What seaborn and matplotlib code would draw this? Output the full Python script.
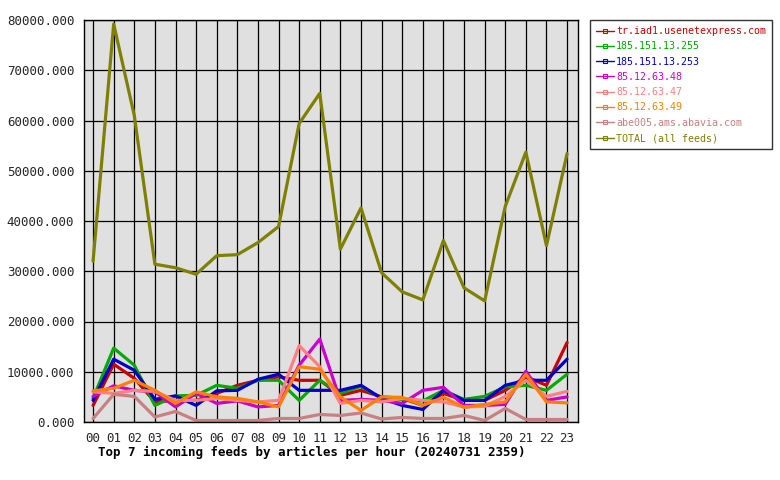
import matplotlib
matplotlib.use("Agg")
import matplotlib.pyplot as plt
import seaborn as sns
import pandas as pd
from matplotlib.lines import Line2D
from matplotlib.ticker import FuncFormatter

hours = ["00", "01", "02", "03", "04", "05", "06", "07", "08", "09", "10", "11",
         "12", "13", "14", "15", "16", "17", "18", "19", "20", "21", "22", "23"]

feed_names = ["tr.iad1.usenetexpress.com", "185.151.13.255", "185.151.13.253",
              "85.12.63.48", "85.12.63.47", "85.12.63.49", "abe005.ams.abavia.com",
              "TOTAL (all feeds)"]

usenetexpress = [3300, 11500, 8700, 4000, 4300, 4300, 5700, 7300, 8300, 9000, 8300, 8300,
                 5300, 6300, 5000, 4700, 3300, 5700, 4300, 4300, 6300, 9000, 7300, 15800]
f185_255 = [4700, 14700, 11300, 3300, 5200, 5300, 7300, 6700, 8300, 8300, 4300, 8300,
            5700, 7100, 4700, 4500, 4200, 6300, 4500, 5100, 7000, 7300, 6300, 9500]
f185_253 = [4300, 12500, 10300, 4500, 5200, 3300, 6200, 6300, 8500, 9500, 6300, 6300,
            6300, 7300, 4700, 3300, 2500, 6300, 4300, 4300, 7300, 8300, 8300, 12500]
f85_48 = [5100, 7200, 6300, 6000, 3000, 5700, 3700, 4200, 3000, 3300, 11300, 16500,
          4300, 4500, 4300, 3700, 6300, 6900, 3300, 3300, 3500, 10100, 4300, 5000]
f85_47 = [6000, 5700, 6300, 6100, 4300, 4300, 4700, 4300, 4000, 4300, 15200, 11000,
          3700, 4300, 4000, 4700, 4300, 4000, 3000, 3100, 5100, 8300, 5100, 6100]
f85_49 = [6200, 6700, 8300, 6300, 3700, 6000, 5000, 4700, 4000, 3000, 11000, 10500,
          5000, 2300, 5000, 4900, 3300, 4900, 2900, 3500, 4000, 9500, 4000, 3800]
abavia = [700, 5500, 5100, 1000, 2100, 300, 300, 300, 300, 700, 700, 1500,
          1300, 1800, 600, 900, 700, 700, 1300, 300, 2700, 500, 500, 500]
total = [32000, 79200, 61000, 31400, 30700, 29400, 33100, 33300, 35700, 38900, 59400, 65400,
         34400, 42600, 29700, 25900, 24300, 36100, 26700, 24100, 42900, 53700, 35100, 53400]

colors = ["#cc0000", "#00aa00", "#0000cc", "#cc00cc", "#ff8080", "#ff8000", "#c88080", "#808000"]

series = [usenetexpress, f185_255, f185_253, f85_48, f85_47, f85_49, abavia, total]
rows = []
for name, vals in zip(feed_names, series):
    for i, v in enumerate(vals):
        rows.append({"hour": i, "feed": name, "articles": v})
df = pd.DataFrame(rows)
palette = dict(zip(feed_names, colors))

sns.set_style("white")
plt.rcParams["font.family"] = ["DejaVu Sans Mono"]

fig = plt.figure(figsize=(7.8, 4.8), dpi=100)
fig.patch.set_facecolor("white")
ax = fig.add_axes([84 / 780, 58 / 480, 494 / 780, 402 / 480])
ax.set_facecolor("#e0e0e0")

sns.lineplot(data=df, x="hour", y="articles", hue="feed", hue_order=feed_names,
             palette=palette, linewidth=2.3, sort=False, legend=False, ax=ax,
             estimator=None)

ax.set_xlim(-0.44, 23.53)
ax.set_ylim(0, 80000)
ax.set_xticks(range(24))
ax.set_xticklabels(hours)
ax.set_yticks(range(0, 80001, 10000))
ax.yaxis.set_major_formatter(FuncFormatter(lambda v, p: f"{v:.3f}"))
ax.grid(True, color="black", linewidth=0.9)
ax.set_axisbelow(True)
for s in ax.spines.values():
    s.set_color("black")
    s.set_linewidth(1.0)
ax.tick_params(axis="both", direction="out", length=4, width=0.9, color="black",
               labelsize=9, pad=3)
ax.set_xlabel("")
ax.set_ylabel("")

handles = [Line2D([0], [0], color=c, linewidth=1.0, marker="s", markersize=3,
                  markerfacecolor="none", markeredgecolor=c, markeredgewidth=0.8)
           for c in colors]
leg = fig.legend(handles, feed_names, loc="upper left",
                 bbox_to_anchor=(590 / 780, 1 - 20 / 480), frameon=True,
                 fontsize=7.2, handlelength=1.8, handletextpad=0.2,
                 labelspacing=0.53, borderpad=0.6, borderaxespad=0, fancybox=False)
leg.get_frame().set_edgecolor("black")
leg.get_frame().set_linewidth(1.0)
leg.get_frame().set_facecolor("white")
for t, c in zip(leg.get_texts(), colors):
    t.set_color(c)

fig.text(98 / 780, 1 - 452 / 480, "Top 7 incoming feeds by articles per hour (20240731 2359)",
         fontsize=9, fontweight="bold", va="center", ha="left", color="black")

fig.savefig("out.png", dpi=100, facecolor="white")
